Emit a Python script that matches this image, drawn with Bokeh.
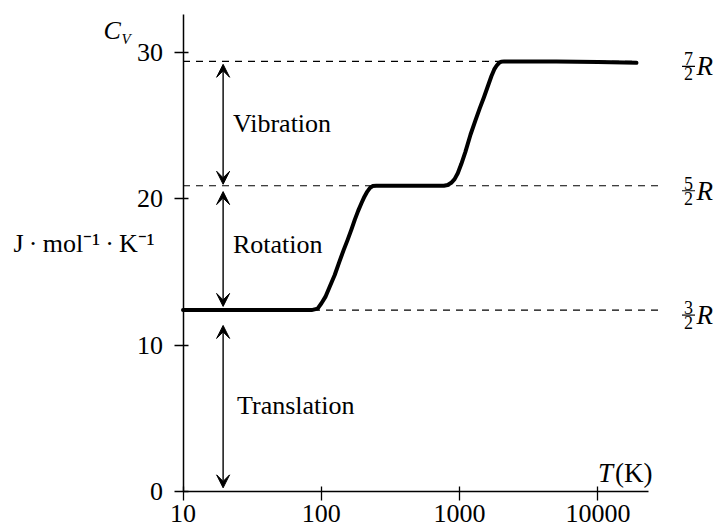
from bokeh.plotting import figure
from bokeh.models import Label, Arrow, VeeHead, FixedTicker, PrintfTickFormatter, Range1d
from bokeh.embed import file_html
from bokeh.resources import INLINE

FONT = "Liberation Serif"

# ---- data ----
T_K = [10, 50, 85, 94, 100, 107, 115, 125, 135, 145, 155, 165, 175, 185, 195, 205, 215, 225,
       235, 250, 400, 600, 770, 820, 870, 920, 970, 1030, 1100, 1200, 1300, 1400, 1500, 1600,
       1700, 1780, 1850, 1930, 2000, 2100, 5000, 10000, 19000]
CV = [12.4, 12.4, 12.4, 12.5, 12.85, 13.3, 14.0, 14.8, 15.7, 16.5, 17.2, 17.9, 18.6, 19.2, 19.7,
      20.15, 20.5, 20.75, 20.88, 20.9, 20.9, 20.9, 20.9, 20.95, 21.1, 21.35, 21.75, 22.4, 23.2,
      24.4, 25.35, 26.2, 26.95, 27.7, 28.4, 28.85, 29.1, 29.3, 29.38, 29.4, 29.4, 29.35, 29.3]

LEVELS = [12.4, 20.9, 29.4]          # 3/2 R, 5/2 R, 7/2 R
FRAC_NUM = ["3", "5", "7"]
FRAC_DEN = ["2", "2", "2"]
DASH_END = [28350, 28350, 19000]
REGION_LABELS = ["Translation", "Rotation", "Vibration"]
REGION_LO = [0.0, 12.4, 20.9]
REGION_HI = [12.4, 20.9, 29.4]
X_TICKS = [10, 100, 1000, 10000]
Y_TICKS = [0, 10, 20, 30]
X_AXIS_BOUNDS = (10, 23300)
Y_AXIS_BOUNDS = (0, 32.6)
ARROW_T = 19.5

PX_PER_UNIT = 14.63

p = figure(width=724, height=531, x_axis_type="log",
           x_range=Range1d(0.4790, 82310), y_range=Range1d(-2.734, 33.561),
           output_backend="svg", toolbar_location=None, min_border=0)
p.outline_line_color = None
p.grid.visible = False
p.background_fill_color = "white"
p.border_fill_color = "white"

# axes
for ax in (p.xaxis[0], p.yaxis[0]):
    ax.axis_line_color = "black"
    ax.axis_line_width = 1.5
    ax.major_tick_line_color = "black"
    ax.major_tick_line_width = 1.3
    ax.minor_tick_line_color = None
    ax.major_label_text_font = FONT
    ax.major_label_text_font_size = "26px"
    ax.major_label_text_color = "black"

xa = p.xaxis[0]
xa.fixed_location = 0
xa.bounds = X_AXIS_BOUNDS
xa.ticker = FixedTicker(ticks=X_TICKS)
xa.formatter = PrintfTickFormatter(format="%d")
xa.major_tick_in = 5
xa.major_tick_out = 9
xa.major_label_standoff = 4

ya = p.yaxis[0]
ya.fixed_location = 10
ya.bounds = Y_AXIS_BOUNDS
ya.ticker = FixedTicker(ticks=Y_TICKS)
ya.major_tick_in = 5
ya.major_tick_out = 9
ya.major_label_standoff = 11

# dashed reference levels
p.segment(x0=[10] * len(LEVELS), y0=LEVELS, x1=DASH_END, y1=LEVELS,
          line_dash="7 6", line_width=1.2, line_color="black")

# the Cv curve
p.line(T_K, CV, line_width=4, line_color="black", line_join="round", line_cap="round")

# double arrows and region labels
gaps_lo = [0.25, 0.25, 0.1]
gaps_hi = [1.05, 0.4, 0.2]
label_dx = [54, 50, 50]
label_dy = [-5, 3, 0]
for name, lo, hi, glo, ghi, dx, dy in zip(REGION_LABELS, REGION_LO, REGION_HI, gaps_lo, gaps_hi,
                                          label_dx, label_dy):
    p.add_layout(Arrow(x_start=ARROW_T, y_start=lo + glo, x_end=ARROW_T, y_end=hi - ghi,
                       start=VeeHead(size=13, fill_color="black", line_color="black", line_width=1),
                       end=VeeHead(size=13, fill_color="black", line_color="black", line_width=1),
                       line_width=1.4, line_color="black"))
    p.add_layout(Label(x=10, y=(lo + hi) / 2, x_offset=dx, y_offset=dy, text=name, text_font=FONT,
                       text_font_size="26px", text_baseline="middle", text_align="left",
                       text_color="black"))

# fractions on the right: n/2 R
XF = 45200
for lev, num, den in zip(LEVELS, FRAC_NUM, FRAC_DEN):
    bar_y = lev - 5 / PX_PER_UNIT
    p.scatter(x=[XF], y=[bar_y], marker="dash", size=13, line_width=1.2, line_color="black")
    p.add_layout(Label(x=XF, y=bar_y, y_offset=1, text=num, text_font=FONT, text_font_size="18px",
                       text_align="center", text_baseline="bottom", text_color="black"))
    p.add_layout(Label(x=XF, y=bar_y, y_offset=-1, text=den, text_font=FONT, text_font_size="18px",
                       text_align="center", text_baseline="top", text_color="black"))
    p.add_layout(Label(x=XF, y=bar_y, x_offset=8, text="R", text_font=FONT, text_font_size="27px",
                       text_font_style="italic", text_align="left", text_baseline="middle",
                       text_color="black"))

# y-axis title: C_V and units
p.add_layout(Label(x=10, y=31.5, x_offset=-79.5, text="C", text_font=FONT, text_font_size="26px",
                   text_font_style="italic", text_baseline="middle", text_color="black"))
p.add_layout(Label(x=10, y=30.95, x_offset=-61.5, text="V", text_font=FONT, text_font_size="15px",
                   text_font_style="italic", text_baseline="middle", text_color="black"))
p.add_layout(Label(x=10, y=(491 - 243) / PX_PER_UNIT, x_offset=-169.5,
                   text="J\u2009·\u2009mol⁻¹\u2009·\u2009K⁻¹",
                   text_font=FONT, text_font_size="26px", text_baseline="middle", text_color="black"))

# x-axis title T(K)
p.add_layout(Label(x=10000, y=0, y_offset=19, text="T", text_font=FONT, text_font_size="27px",
                   text_font_style="italic", text_baseline="alphabetic", text_align="left",
                   text_color="black"))
p.add_layout(Label(x=10000, y=0, x_offset=17, y_offset=19, text="(K)", text_font=FONT,
                   text_font_size="27px", text_baseline="alphabetic", text_align="left",
                   text_color="black"))

open("out.html", "w").write(file_html(p, INLINE))
